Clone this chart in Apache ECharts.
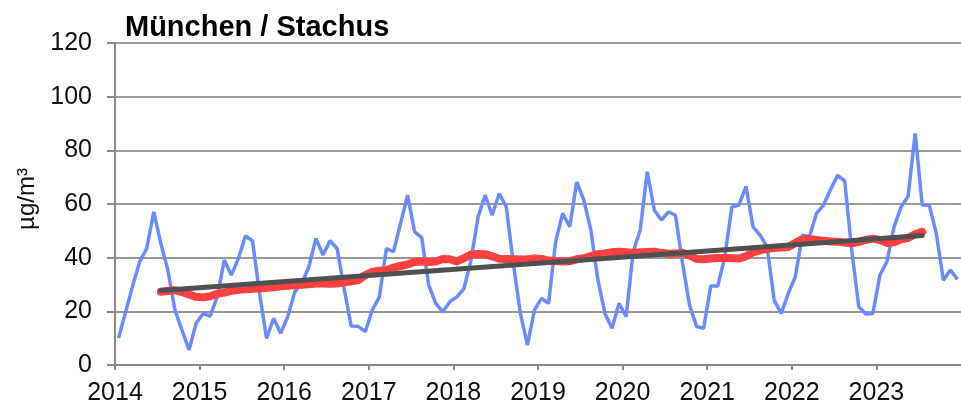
<!DOCTYPE html>
<html><head><meta charset="utf-8">
<script src="https://cdn.jsdelivr.net/npm/echarts@6/dist/echarts.min.js"></script>
<style>html,body{margin:0;padding:0;background:#fff}#c{width:961px;height:413px}</style>
</head><body><div id="c"></div>
<script>
const startYear = 2014;
const title = 'München / Stachus';
const yName = 'µg/m³';
const monthlyValues = [
 10, 19.7, 29.4, 38.5, 43.4, 57.1, 45.3, 35.4, 20.5, 13, 5.6, 15.5,
 19.2, 18.2, 25.4, 39.1, 33.5, 39.7, 48.1, 46.3, 26.7, 9.9, 17.4, 11.8,
 18, 27.3, 30.4, 36.6, 47.2, 41, 46.3, 43.4, 28.5, 14.5, 14.4, 12.4,
 20.5, 25.4, 43.4, 42.2, 52.7, 63.3, 49.6, 47.5, 29.8, 23, 19.8, 23.6,
 25.4, 28.5, 39.1, 55.2, 63.3, 55.8, 63.9, 58.9, 37.9, 19.2, 7.4, 20.5,
 24.8, 23, 45.9, 56.5, 51.5, 68.2, 61.4, 50.3, 31.6, 19.2, 13.7, 23,
 18, 42.2, 50.3, 72, 57.7, 54, 57.1, 55.8, 37.9, 22.3, 14.3, 13.7,
 29.4, 29.4, 40.3, 58.9, 59.6, 66.6, 51.5, 48.4, 44, 24.2, 19.2, 26.7,
 32.9, 48.4, 47.8, 56.5, 59.6, 65.4, 70.7, 68.6, 42.8, 21.7, 19, 19.2,
 33.5, 38.5, 51.5, 58.9, 62.9, 86.3, 59.6, 59.6, 49, 31.6, 35.4, 31.9
];
const movingAvgStartIndex = 6;
const movingAvg = [
 27.3, 27.6, 27.9, 27.2, 26.3, 25.4,
 25.2, 25.6, 26.5, 27.0, 27.6, 28.0, 28.2, 28.4, 28.5, 28.8, 29.0, 29.3,
 29.5, 29.7, 29.9, 30.1, 30.4, 30.4, 30.3, 30.4, 30.8, 31.2, 31.6, 33.5,
 34.7, 35.1, 35.3, 36.3, 36.9, 37.5, 38.4, 38.6, 38.4, 38.6, 39.5, 39.4,
 38.6, 39.8, 41.2, 41.4, 41.3, 40.5, 39.6, 39.5, 39.4, 39.3, 39.4, 39.7,
 39.5, 38.9, 38.8, 38.6, 38.7, 39.4, 39.8, 40.6, 41.3, 41.6, 42.0, 42.2,
 42.0, 41.8, 42.0, 42.1, 42.2, 41.8, 41.5, 41.5, 41.8, 40.8, 39.5, 39.4,
 39.7, 39.9, 39.9, 39.8, 39.7, 40.5, 42.0, 42.7, 43.3, 43.6, 43.8, 44.0,
 45.5, 46.8, 47.0, 46.6, 46.3, 46.0, 45.9, 45.6, 45.3, 45.9, 46.6, 47.1,
 46.6, 45.5, 45.7, 46.8, 47.3, 48.7, 49.6
];
const trendStartIndex = 6, trendEndIndex = 114;
const trendValues = [27.8, 48.3];

const monthX = i => startYear + (i + 0.5) / 12;
const blueData = monthlyValues.map((v, i) => [monthX(i), v]);
const redData = movingAvg.map((v, k) => [monthX(movingAvgStartIndex + k), v]);
const trendData = [[monthX(trendStartIndex), trendValues[0]], [monthX(trendEndIndex), trendValues[1]]];

const font = 'Liberation Sans, Arial, sans-serif';
const chart = echarts.init(document.getElementById('c'));
chart.setOption({
  animation: false,
  title: {text: title, left: 120, top: 8, textStyle: {fontFamily: font, fontSize: 29, fontWeight: 'bold', color: '#000'}},
  grid: {left: 115, right: -3, top: 43, bottom: 48},
  xAxis: {
    type: 'value', min: 2014, max: 2024, interval: 1,
    axisLine: {lineStyle: {color: '#888', width: 2}},
    axisTick: {show: true, length: 5, lineStyle: {color: '#888', width: 2}},
    axisLabel: {fontFamily: font, fontSize: 25, color: '#111', margin: 16, showMaxLabel: false, formatter: v => String(v)},
    splitLine: {show: false}
  },
  yAxis: {
    type: 'value', min: 0, max: 120, interval: 20,
    name: yName, nameLocation: 'middle', nameGap: 71, nameRotate: 90,
    nameTextStyle: {fontFamily: font, fontSize: 24, color: '#111', padding: [0, 0, 0, 10]},
    axisLine: {show: true, lineStyle: {color: '#888', width: 2}},
    axisTick: {show: true, length: 8, lineStyle: {color: '#888', width: 2}},
    axisLabel: {fontFamily: font, fontSize: 25, color: '#111', margin: 23},
    splitLine: {show: true, lineStyle: {color: '#999', width: 2}}
  },
  series: [
    {type: 'line', data: blueData, showSymbol: false, lineStyle: {color: '#6a8cff', width: 3.5}, z: 2},
    {type: 'line', data: redData, showSymbol: false, lineStyle: {color: '#ff4040', width: 8, cap: 'round', join: 'round'}, z: 3},
    {type: 'line', data: trendData, showSymbol: false, lineStyle: {color: '#505050', width: 5, cap: 'round'}, z: 4}
  ]
});
</script></body></html>
